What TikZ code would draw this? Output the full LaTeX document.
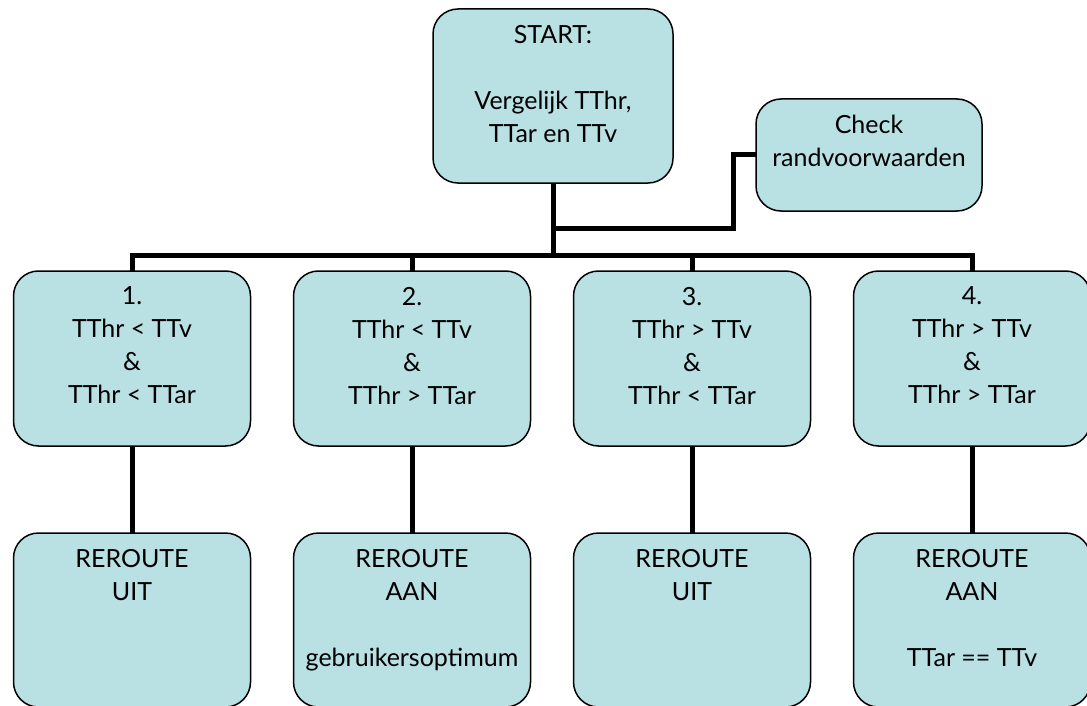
\documentclass[tikz,border=0pt]{standalone}
\usepackage{fontspec}
\setmainfont{Lato}
\definecolor{boxfill}{RGB}{185,224,227}
\newcommand{\btext}[3]{\parbox[c][#2][t]{#1}{\centering\vspace*{16pt}#3\par}}
\tikzset{
  fbox/.style={draw=black, line width=1.5pt, fill=boxfill, rounded corners=25pt, inner sep=0pt, outer sep=0pt},
  conn/.style={line width=5pt, draw=black},
}
\begin{document}
\begin{tikzpicture}[x=1pt,y=1pt]
\useasboundingbox (0,0) rectangle (1087,-706);
\fontsize{25}{33}\selectfont
\node[fbox] (start) at (553,-96) {\btext{240pt}{174pt}{START:\\[33pt]Vergelijk TThr,\\TTar en TTv}};
\node[fbox] (check) at (869,-155) {\btext{226pt}{112pt}{Check\\randvoorwaarden}};
\node[fbox] (b1) at (132,-358.5) {\btext{237pt}{175pt}{1.\\TThr \textless{} TTv\\\&\\TThr \textless{} TTar}};
\node[fbox] (b2) at (412,-358.5) {\btext{237pt}{175pt}{2.\\TThr \textless{} TTv\\\&\\TThr \textgreater{} TTar}};
\node[fbox] (b3) at (692,-358.5) {\btext{237pt}{175pt}{3.\\TThr \textgreater{} TTv\\\&\\TThr \textless{} TTar}};
\node[fbox] (b4) at (972,-358.5) {\btext{237pt}{175pt}{4.\\TThr \textgreater{} TTv\\\&\\TThr \textgreater{} TTar}};
\node[fbox] (r1) at (132,-620) {\btext{237pt}{174pt}{REROUTE\\UIT}};
\node[fbox] (r2) at (412,-620) {\btext{237pt}{174pt}{REROUTE\\AAN\\[33pt]gebruikersoptimum}};
\node[fbox] (r3) at (692,-620) {\btext{237pt}{174pt}{REROUTE\\UIT}};
\node[fbox] (r4) at (972,-620) {\btext{237pt}{174pt}{REROUTE\\AAN\\[33pt]TTar == TTv}};
\coordinate (bus) at (553,-255);
\coordinate (j) at (553,-228);
\draw[conn] (start.south) -- (bus);
\draw[conn] (b1.north) -- (b1.north|-bus) -- (b4.north|-bus) -- (b4.north);
\draw[conn] (b2.north) -- (b2.north|-bus);
\draw[conn] (b3.north) -- (b3.north|-bus);
\draw[conn] (j) -- ++(180,0) |- (check.west);
\foreach \i in {1,2,3,4} \draw[conn] (b\i.south) -- (r\i.north);
\end{tikzpicture}
\end{document}
